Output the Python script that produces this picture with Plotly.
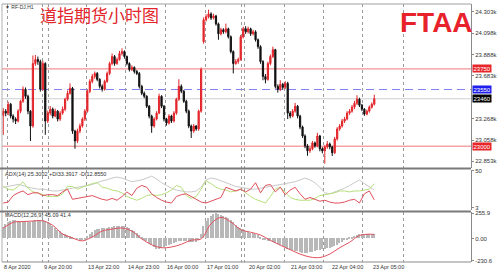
import plotly.graph_objects as go
from plotly.subplots import make_subplots

# ---------------- data ----------------
opens = [23300,23340,23321,23407,23292,23263,23244,23340,23436,23552,
         23484,23340,23196,23802,23841,23821,23552,23802,23244,23321,
         23359,23292,23340,23263,23321,23359,23456,23513,23562,23147,
         23051,23147,23196,23263,23340,23533,23629,23677,23706,23648,
         23581,23552,23629,23706,23802,23870,23802,23841,23899,23918,
         23870,23802,23744,23764,23725,23706,23581,23513,23484,23388,
         23292,23196,23263,23321,23484,23388,23263,23224,23292,23244,
         23321,23456,23581,23533,23436,23340,23196,23147,23196,23167,
         23340,24014,24226,24255,24284,24245,24264,24187,24091,24130,
         24110,24139,24062,23918,23802,23821,23841,24062,24139,24110,
         24139,24091,24110,24033,23966,23821,23677,23648,23802,23870,
         23937,23581,23552,23600,23571,23610,23321,23292,23340,23388,
         23292,23186,23099,23003,22955,22974,23032,23003,23099,22974,
         22955,22993,23022,22993,22936,23070,23167,23196,23244,23263,
         23321,23340,23379,23417,23456,23398,23359,23311,23340,23379,
         23407]
highs = [23370,23360,23430,23420,23310,23280,23360,23450,23580,23570,
         23500,23350,23880,23885,23870,23840,23830,23815,23345,23390,
         23375,23365,23350,23340,23385,23470,23540,23610,23575,23160,
         23170,23220,23280,23360,23550,23650,23700,23725,23720,23660,
         23600,23645,23725,23820,23900,23885,23860,23925,23950,23930,
         23880,23815,23785,23775,23740,23720,23595,23530,23495,23400,
         23305,23280,23340,23510,23495,23400,23275,23310,23305,23340,
         23470,23650,23600,23545,23450,23355,23210,23215,23205,23355,
         23764,24250,24280,24325,24300,24285,24275,24200,24150,24145,
         24190,24150,24075,23930,23845,23860,24080,24160,24165,24160,
         24150,24130,24125,24045,23980,23835,23700,23820,23890,23966,
         23945,23600,23640,23615,23630,23625,23340,23360,23420,23400,
         23305,23200,23115,23020,22995,23050,23045,23130,23110,22990,
         23010,23050,23035,23005,23090,23185,23215,23265,23285,23340,
         23360,23400,23440,23494,23470,23410,23370,23355,23395,23425,
         23500]
lows = [23110,23290,23300,23270,23230,23215,23230,23320,23420,23460,
        23310,23050,23180,23780,23790,23530,23540,23110,23225,23300,
        23270,23280,23240,23245,23305,23340,23440,23500,23120,22975,
        23030,23125,23180,23245,23325,23515,23610,23655,23630,23560,
        23530,23540,23615,23690,23785,23780,23790,23830,23880,23850,
        23785,23725,23730,23705,23690,23560,23495,23465,23370,23270,
        23130,23180,23250,23310,23370,23240,23200,23210,23225,23230,
        23305,23440,23515,23420,23320,23175,23080,23130,23150,23150,
        23325,23995,24210,24240,24225,24230,24170,24033,24075,24090,
        24095,24045,23900,23706,23790,23800,23830,24045,24090,24095,
        24070,24075,24015,23945,23800,23640,23610,23635,23785,23855,
        23560,23520,23535,23550,23555,23263,23270,23280,23325,23270,
        23165,23080,22980,22907,22935,22960,22985,22990,22950,22930,
        22830,22975,22970,22905,22925,23055,23150,23180,23225,23250,
        23305,23325,23360,23400,23380,23340,23295,23300,23325,23365,
        23395]
closes = [23340,23321,23407,23292,23263,23244,23340,23436,23552,23484,
          23340,23196,23802,23841,23821,23552,23802,23244,23321,23359,
          23292,23340,23263,23321,23359,23456,23513,23562,23147,23051,
          23147,23196,23263,23340,23533,23629,23677,23706,23648,23581,
          23552,23629,23706,23802,23870,23802,23841,23899,23918,23870,
          23802,23744,23764,23725,23706,23581,23513,23484,23388,23292,
          23196,23263,23321,23484,23388,23263,23224,23292,23244,23321,
          23456,23581,23533,23436,23340,23196,23147,23196,23167,23340,
          23744,24226,24255,24284,24245,24264,24187,24091,24130,24110,
          24139,24062,23918,23802,23821,23841,24062,24139,24110,24139,
          24091,24110,24033,23966,23821,23677,23648,23802,23870,23937,
          23581,23552,23600,23571,23610,23321,23292,23340,23388,23292,
          23186,23099,23003,22955,22974,23032,23003,23099,22974,22955,
          22993,23022,22993,22936,23070,23167,23196,23244,23263,23321,
          23340,23379,23417,23456,23398,23359,23311,23340,23379,23407,
          23460]
bars = list(range(len(closes)))

# ADX(14) lines, read every second bar
adx_main = [28.9,30.0,31.2,32.4,31.2,28.9,27.7,26.5,26.5,25.3,
            24.2,24.2,25.3,26.5,27.7,28.9,30.0,31.2,32.4,34.7,
            37.1,38.3,40.6,41.8,40.6,38.3,35.9,37.1,38.3,40.6,
            43.0,39.4,34.7,31.2,27.7,25.3,24.2,23.0,23.0,24.2,
            28.9,38.3,40.6,39.4,37.1,34.7,32.4,30.0,28.9,27.7,
            26.5,26.5,27.7,28.9,30.0,31.2,32.4,33.6,34.7,35.9,
            38.3,40.6,38.3,34.7,28.9,21.8,20.6,23.0,25.3,27.7,
            31.2,34.7,38.3,33.6,28.9,25.3]
adx_plus = [30.0,26.5,25.3,30.0,35.9,27.7,23.0,21.8,19.5,17.1,
            17.1,17.1,20.6,30.0,30.0,26.5,28.9,31.2,33.6,34.7,
            28.9,27.7,25.3,24.2,21.8,17.1,14.8,12.4,14.8,18.3,
            19.5,18.3,19.5,21.8,25.3,31.2,28.9,18.3,14.8,17.1,
            26.5,37.1,33.6,28.9,26.5,25.3,23.0,24.2,26.5,21.8,
            17.1,13.6,11.2,8.9,17.1,26.5,28.9,23.0,15.9,13.6,
            12.4,12.4,12.4,14.8,18.3,19.5,20.6,21.8,24.2,24.2,
            23.0,24.2,24.2,25.3,26.5,33.4]
adx_minus = [8.9,10.1,18.3,21.8,24.2,19.5,21.8,21.8,18.3,19.5,
             19.5,18.3,23.0,26.5,13.6,14.8,15.9,17.1,18.3,15.9,
             13.6,12.4,14.8,12.4,17.1,23.0,18.3,27.7,31.2,28.9,
             20.6,15.9,12.4,10.1,8.9,17.1,19.5,20.6,17.1,13.6,
             10.1,8.9,11.2,13.6,15.9,28.9,26.5,24.2,26.5,23.0,
             26.5,34.7,21.8,31.2,32.4,23.0,28.9,19.5,25.3,28.9,
             20.6,13.6,15.9,13.6,11.2,12.4,10.1,8.9,8.9,10.1,
             12.4,13.6,8.9,20.6,24.2,12.9]
adx_bars = list(range(0, 151, 2))

# MACD(12,26,9)
macd_hist = [115,140,160,175,180,182,178,170,165,162,
             160,165,175,185,188,186,188,175,160,140,
             120,100,85,70,55,40,30,20,10,0,
             -5,-10,-15,-10,20,45,65,80,90,95,
             98,100,105,110,115,118,120,122,125,124,
             115,100,85,70,55,30,10,-15,-35,-55,
             -75,-95,-110,-115,-105,-90,-80,-70,-65,-55,
             -45,-35,-30,-30,-35,-40,-45,-45,-40,-20,
             40,120,170,205,230,245,252,250,240,230,
             215,200,185,160,135,115,100,90,75,60,
             55,50,45,30,10,-10,-25,-30,-35,-40,
             -55,-65,-75,-85,-95,-110,-120,-125,-130,-135,
             -145,-150,-155,-150,-145,-140,-135,-125,-120,-115,
             -110,-105,-100,-95,-85,-70,-55,-40,-25,-10,
             5,15,25,35,40,42,40,38,38,40,
             45]
macd_signal = [105,165,172,178,180,134,45,5,-25,15,
               75,95,106,75,-5,-65,-95,-88,-60,-18,
               -5,150,215,168,90,63,35,-20,-69,-115,
               -160,-190,-195,-160,-95,-40,30,43,41]
signal_bars = list(range(0, 149, 4)) + [150]

price_ticks = [24303, 24098, 23888, 23683, 23268, 23058, 22853]
level_red = [23750, 23000]
level_blue = 23550
current_price = 23460

date_labels = ["8 Apr 2020", "9 Apr 20:00", "13 Apr 22:00", "14 Apr 23:00", "16 Apr 00:00",
               "17 Apr 01:00", "20 Apr 02:00", "21 Apr 03:00", "22 Apr 04:00", "23 Apr 05:00"]
date_label_bars = [-0.5, 15.8, 33.6, 49.6, 65.5, 81.6, 98.7, 115.4, 131.9, 148.7]
grid_bars = [1.8, 16.0, 18.3, 33.6, 49.6, 65.4, 81.6, 96.4, 97.6, 113.6, 129.6, 145.4, 162.0]

# ---------------- figure ----------------
RED = "#e3262b"
fig = make_subplots(rows=3, cols=1, shared_xaxes=True, vertical_spacing=0.01)

fig.add_trace(go.Candlestick(
    x=bars, open=opens, high=highs, low=lows, close=closes,
    increasing=dict(line=dict(color=RED, width=1), fillcolor=RED),
    decreasing=dict(line=dict(color="#111111", width=1), fillcolor="#111111"),
    whiskerwidth=0, hoverinfo="skip"), row=1, col=1)

fig.add_trace(go.Scatter(x=adx_bars, y=adx_main, mode="lines",
                         line=dict(color="#c9c9c9", width=1)), row=2, col=1)
fig.add_trace(go.Scatter(x=adx_bars, y=adx_plus, mode="lines",
                         line=dict(color="#b6e07c", width=1)), row=2, col=1)
fig.add_trace(go.Scatter(x=adx_bars, y=adx_minus, mode="lines",
                         line=dict(color="#e0505c", width=1)), row=2, col=1)

fig.add_trace(go.Bar(x=bars, y=macd_hist, marker=dict(color="#b8b8b8", line=dict(width=0)),
                     width=0.6), row=3, col=1)
fig.add_trace(go.Scatter(x=signal_bars, y=macd_signal, mode="lines", line_shape="spline",
                         line=dict(color="#e0505c", width=1)), row=3, col=1)

# level lines
for lv in level_red:
    fig.add_hline(y=lv, line=dict(color="#f07878", width=1), layer="below", row=1, col=1)
fig.add_hline(y=level_blue, line=dict(color="#8080f0", width=1, dash="8px,5px"), layer="below", row=1, col=1)
fig.add_hline(y=current_price, line=dict(color="#cfcfcf", width=1), layer="below", row=1, col=1)

fig.update_layout(
    width=500, height=273, margin=dict(l=2, r=24, t=2, b=11),
    paper_bgcolor="white", plot_bgcolor="white", showlegend=False, bargap=0,
    yaxis=dict(domain=[0.3654, 1.0], range=[22791, 24380], tickvals=price_ticks),
    yaxis2=dict(domain=[0.2, 0.3577], range=[-0.5, 51.2], tickvals=[50, 3]),
    yaxis3=dict(domain=[0.0, 0.1923], range=[-241, 266], tickvals=[255.9, 0, -230.6],
                ticktext=["255.9", "0.00", "-230.6"]),
)
fig.update_xaxes(range=[-0.5, 189.1], tickvals=grid_bars, showticklabels=False, ticks="",
                 showgrid=True, gridcolor="#9a9a9a", griddash="dot", gridwidth=1,
                 zeroline=False, showline=False, rangeslider_visible=False)
fig.update_yaxes(side="right", showgrid=False, zeroline=False, showline=True,
                 linecolor="#8a8a8a", linewidth=1, ticks="outside", ticklen=2,
                 tickcolor="#8a8a8a", tickfont=dict(size=6, color="#333333", family="Liberation Sans"))

# frame & panel separators (paper coordinates)
def py(p):
    return 1 - (p - 2) / 260.0

def px(p):
    return (p - 2) / 474.0

shapes = [
    dict(type="line", xref="paper", yref="paper", x0=0, x1=1, y0=1, y1=1, line=dict(color="#a0a0a0", width=1)),
    dict(type="line", xref="paper", yref="paper", x0=0, x1=0, y0=0, y1=1, line=dict(color="#b0b0b0", width=1)),
    dict(type="line", xref="paper", yref="paper", x0=-0.005, x1=1, y0=py(167.8), y1=py(167.8), line=dict(color="#7a7a7a", width=2)),
    dict(type="line", xref="paper", yref="paper", x0=-0.005, x1=1, y0=py(211), y1=py(211), line=dict(color="#7a7a7a", width=2)),
    dict(type="line", xref="paper", yref="paper", x0=0, x1=1, y0=0, y1=0, line=dict(color="#8a8a8a", width=1)),
]
for s in shapes:
    fig.add_shape(**s)

ann = []
# title and logo
ann.append(dict(text="道指期货小时图", xref="paper", yref="paper", x=px(38), y=py(13),
                xanchor="left", yanchor="middle", showarrow=False,
                font=dict(family="Noto Sans CJK SC", size=17, color=RED)))
ann.append(dict(text="<b>FTAA</b>", xref="paper", yref="paper", x=px(441), y=py(21),
                xanchor="center", yanchor="middle", showarrow=False,
                font=dict(family="Liberation Sans", size=28, color="#e8222a")))
ann.append(dict(text="▼ RF-DJ,H1", xref="paper", yref="paper", x=0.003, y=py(5),
                xanchor="left", yanchor="middle", showarrow=False,
                font=dict(family="Liberation Sans", size=5, color="#333333")))
ann.append(dict(text="ADX(14) 25.3002 +DI33.3917 -DI12.8550", xref="paper", yref="paper", x=0.003, y=py(173.5),
                xanchor="left", yanchor="middle", showarrow=False,
                font=dict(family="Liberation Sans", size=5.5, color="#333333")))
ann.append(dict(text="MACD(12,26,9) 45.09 41.4", xref="paper", yref="paper", x=0.003, y=py(215),
                xanchor="left", yanchor="middle", showarrow=False,
                font=dict(family="Liberation Sans", size=5.5, color="#333333")))
# date labels
for lbl, b in zip(date_labels, date_label_bars):
    ann.append(dict(text=lbl, xref="x3", yref="paper", x=b, y=py(267.5),
                    xanchor="left", yanchor="middle", showarrow=False,
                    font=dict(family="Liberation Sans", size=5.5, color="#333333")))
# highlighted price labels
for val, bg in [(23750, "#e8262a"), (level_blue, "#2020ee"), (current_price, "#000000"), (23000, "#e8262a")]:
    ann.append(dict(text=str(val), xref="paper", yref="y", x=1.0, y=val, xshift=1,
                    xanchor="left", yanchor="middle", showarrow=False, bgcolor=bg, borderpad=0.5,
                    font=dict(family="Liberation Sans", size=6, color="white")))
fig.update_layout(annotations=ann)

fig.write_html("out.html")
